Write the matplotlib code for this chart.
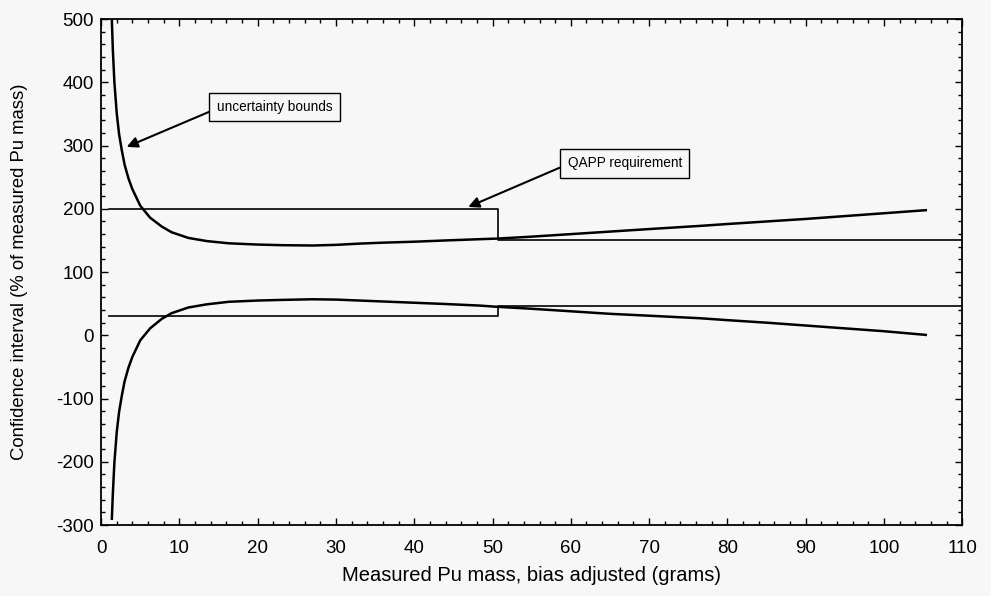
import matplotlib
matplotlib.use("Agg")
import matplotlib.pyplot as plt
from matplotlib.ticker import MultipleLocator

plt.rcParams['font.family'] = ['Liberation Sans', 'DejaVu Sans']
plt.rcParams['axes.unicode_minus'] = False

# Uncertainty bounds (upper / lower)
upper_x = [1.37, 1.5, 1.7, 2.0, 2.3, 2.64, 3.0, 3.5, 4.0, 5.0, 6.26, 7.75, 9.0, 11.15,
           13.5, 16.3, 20, 23.1, 27, 30, 33, 36, 40, 44, 48.4, 50.7, 55, 60, 65, 70,
           76.5, 80, 85, 90, 95, 100, 105.5]
upper_y = [500, 452, 400, 351, 318, 293, 270, 248, 231, 205, 186, 172, 163, 154,
           149, 145.5, 143.5, 142.5, 142, 143, 145, 146.5, 148, 150, 152, 153, 156, 160, 164, 168,
           173, 176, 180, 184, 188.5, 193, 198]

lower_x = [1.37, 1.5, 1.7, 2.0, 2.3, 2.64, 3.0, 3.5, 4.0, 5.0, 6.26, 7.75, 9.0, 11.15,
           13.5, 16.3, 20, 23.1, 27, 30, 33, 36, 40, 44, 48.4, 50.7, 55, 60, 65, 70,
           76.5, 80, 85, 90, 95, 100, 105.5]
lower_y = [-292, -251, -201, -153, -121, -96, -73, -51, -34, -8, 11, 26, 35, 44,
           49, 53, 55, 56, 57, 56.5, 55, 53.5, 51.5, 49.5, 47, 45, 42, 38, 34, 31,
           27, 24, 20, 15.5, 11, 6.5, 0.5]

# QAPP requirement (step lines)
qapp_x = [1.0, 50.7, 50.7, 110]
qapp_upper = [200, 200, 150, 150]
qapp_lower = [30, 30, 47, 47]

fig = plt.figure(figsize=(9.91, 5.96), dpi=100, facecolor='#f7f7f7')
ax = fig.add_axes([0.102, 0.119, 0.869, 0.849])
ax.set_facecolor('#f7f7f7')

ax.plot(upper_x, upper_y, color='black', lw=1.8, solid_capstyle='butt')
ax.plot(lower_x, lower_y, color='black', lw=1.8, solid_capstyle='butt')
ax.plot(qapp_x, qapp_upper, color='black', lw=1.2)
ax.plot(qapp_x, qapp_lower, color='black', lw=1.2)

ax.set_xlim(0, 110)
ax.set_ylim(-300, 500)
ax.xaxis.set_major_locator(MultipleLocator(10))
ax.xaxis.set_minor_locator(MultipleLocator(2))
ax.yaxis.set_major_locator(MultipleLocator(100))
ax.yaxis.set_minor_locator(MultipleLocator(20))
ax.tick_params(which='both', direction='in', top=True, right=True, labelsize=13.5, width=1.0)
ax.tick_params(which='major', length=5)
ax.tick_params(which='minor', length=3)
ax.tick_params(axis='x', which='major', pad=11)
ax.tick_params(axis='y', which='major', pad=5)
for s in ax.spines.values():
    s.set_linewidth(1.3)

ax.set_xlabel('Measured Pu mass, bias adjusted (grams)', fontsize=14.5, labelpad=6)
ax.set_ylabel('Confidence interval (% of measured Pu mass)', fontsize=13.3, labelpad=20)

box = dict(boxstyle='square,pad=0.55', fc='#f7f7f7', ec='black', lw=1.0)
ax.annotate('uncertainty bounds', xy=(3.27, 298), xytext=(14.8, 361),
            fontsize=9.8, ha='left', va='center', bbox=box,
            arrowprops=dict(arrowstyle='-|>', color='black', lw=1.5, mutation_scale=16,
                            shrinkA=0, shrinkB=0, relpos=(0.0, 0.39)))
ax.annotate('QAPP requirement', xy=(46.9, 203), xytext=(59.6, 272),
            fontsize=9.8, ha='left', va='center', bbox=box,
            arrowprops=dict(arrowstyle='-|>', color='black', lw=1.5, mutation_scale=16,
                            shrinkA=0, shrinkB=0, relpos=(0.0, 0.43)))

fig.savefig('out.png', dpi=100, facecolor=fig.get_facecolor())
